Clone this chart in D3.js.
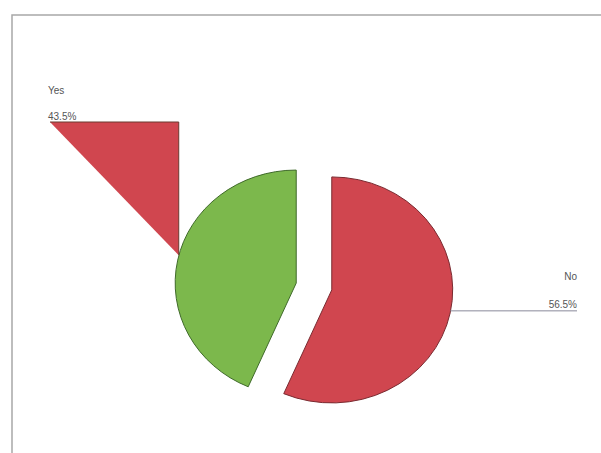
<!DOCTYPE html>
<meta charset="utf-8">
<title>Yes / No pie</title>
<style>
body { margin: 0; background: #fff; }
text { font-family: "Liberation Sans", Arial, sans-serif; font-size: 10px; fill: #555; }
.frame { stroke: #a8a8a8; stroke-width: 1.5px; fill: none; }
.slice { stroke-width: 1px; vector-effect: non-scaling-stroke; }
</style>
<body>
<svg width="601" height="453"></svg>
<script src="https://d3js.org/d3.v7.min.js"></script>
<script>

var categories = ["No", "Yes"];
var values = [56.5, 43.5];
var pctLabels = ["56.5%", "43.5%"];
var fills = ["#d0464f", "#7cb84c"];
var strokes = ["#7a2a30", "#3f6a2a"];

var svg = d3.select("svg"),
    cx = 314, cy = 286.5,
    rx = 121, ry = 113,
    explode = 0.15;

// frame of the original page
svg.append("path").attr("class", "frame")
    .attr("d", "M12,453V15H601");

var data = categories.map(function(c, i) {
  return {name: c, value: values[i], pct: pctLabels[i], fill: fills[i], stroke: strokes[i]};
});

var pie = d3.pie().sort(null).value(function(d) { return d.value; });
var arc = d3.arc().innerRadius(0).outerRadius(1);
var arcs = pie(data);

// position helper in ellipse space
function pos(a, r, off) {
  return [cx + (Math.sin(a) * r + off[0]) * rx, cy + (-Math.cos(a) * r + off[1]) * ry];
}

arcs.forEach(function(d) {
  d.mid = (d.startAngle + d.endAngle) / 2;
  d.off = [Math.sin(d.mid) * explode, -Math.cos(d.mid) * explode];
  d.edge = pos(d.mid, 1, d.off);
});

svg.append("g").selectAll("path")
    .data(arcs)
    .enter().append("path")
      .attr("class", "slice")
      .attr("transform", function(d) {
        return "translate(" + (cx + d.off[0] * rx) + "," + (cy + d.off[1] * ry) + ") scale(" + rx + "," + ry + ")";
      })
      .attr("d", arc)
      .attr("fill", function(d) { return d.data.fill; })
      .attr("stroke", function(d) { return d.data.stroke; });

// "No" label: on the right, leader straight across
var no = arcs[0];
svg.append("line")
    .attr("x1", no.edge[0]).attr("y1", no.edge[1] - 2)
    .attr("x2", 577).attr("y2", no.edge[1] - 2)
    .attr("stroke", "#8a8a9a").attr("stroke-width", 1);
svg.append("text").attr("x", 577).attr("y", 280).attr("text-anchor", "end").text(no.data.name);
svg.append("text").attr("x", 577).attr("y", 308).attr("text-anchor", "end").text(no.data.pct);

// "Yes" label: leader elbow, drawn filled as in the original
var yes = arcs[1];
var lx = 50, ly = 122, ex = yes.edge[0] + 1, ey = yes.edge[1] - 5;
svg.append("path")
    .attr("d", "M" + lx + "," + ly + "H" + ex + "V" + ey + "Z")
    .attr("fill", fills[0]);
svg.append("path")
    .attr("d", "M" + lx + "," + ly + "H" + ex + "V" + ey)
    .attr("fill", "none").attr("stroke", "#6a3a30").attr("stroke-width", 1);
svg.append("text").attr("x", 48).attr("y", 94).text(yes.data.name);
svg.append("text").attr("x", 48).attr("y", 120).text(yes.data.pct);

</script>
</body>
